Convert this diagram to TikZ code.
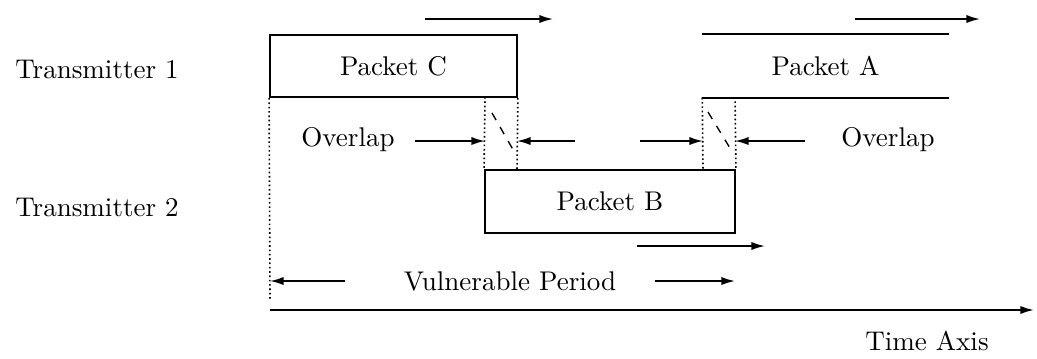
\documentclass[tikz,border=0pt]{standalone}
\usetikzlibrary{positioning,arrows.meta}
\begin{document}
\begin{tikzpicture}[
  x=0.013cm, y=-0.013cm,
  every node/.style={font=\normalsize},
  packet/.style={draw,line width=0.7pt,minimum height=0.81cm,inner sep=0pt},
  slot/.style={minimum height=0.81cm,inner sep=0pt},
  dir/.style={-{Latex[length=5pt,width=3pt]},line width=0.6pt},
  edge/.style={line width=0.7pt},
  hatch/.style={densely dotted,line width=0.6pt}
]
\useasboundingbox (0,0) rectangle (1037,358);

% senders
\node (tx1) at (97,69) {Transmitter 1};
\node (tx2) at (97,207) {Transmitter 2};

% packets
\node[packet,minimum width=3.21cm] (pc) at (393.5,66) {Packet C};
\node[slot,minimum width=3.19cm] (pa) at (825.5,66) {Packet A};
\draw[edge] (pa.north west) -- (pa.north east);
\draw[edge] (pa.south west) -- (pa.south east);
\node[packet,minimum width=3.25cm] (pb) at (610,201.5) {Packet B};

% direction of transmission
\coordinate (c0) at (425,19);
\coordinate (c1) at (553,19);
\coordinate (a0) at (855,19);
\coordinate (a1) at (980,19);
\coordinate (b0) at (637,246);
\coordinate (b1) at (765,246);
\draw[dir] (c0) -- (c1);
\draw[dir] (a0) -- (a1);
\draw[dir] (b0) -- (b1);

% overlap zones
\coordinate (o1a) at (485,97);
\coordinate (o1b) at (517,170);
\coordinate (o2a) at (735,97);
\coordinate (o2b) at (703,170);
\draw[hatch] (o1a) -- (pb.north west);
\draw[hatch] (pc.south east) -- (o1b);
\draw[hatch] (pa.south west) -- (o2b);
\draw[hatch] (o2a) -- (pb.north east);
\draw[dashed,line width=0.5pt] (492,113) -- (515,153);
\draw[dashed,line width=0.5pt] (708,112) -- (733,153);

\node (ol) at (348,140) {Overlap};
\node (or) at (888,140) {Overlap};
\coordinate (p1) at (415,141);
\coordinate (p2) at (485,141);
\coordinate (p3) at (575,141);
\coordinate (p4) at (517,141);
\coordinate (p5) at (640,141);
\coordinate (p6) at (703,141);
\coordinate (p7) at (805,141);
\coordinate (p8) at (735,141);
\draw[dir] (p1) -- (p2);
\draw[dir] (p3) -- (p4);
\draw[dir] (p5) -- (p6);
\draw[dir] (p7) -- (p8);

% vulnerable period
\coordinate (v0) at (270,300);
\draw[hatch] (pc.south west) -- (v0);
\node (vp) at (510,281) {Vulnerable Period};
\coordinate (vl) at (270,281);
\coordinate (vl0) at (345,281);
\coordinate (vr0) at (655,281);
\coordinate (vr) at (735,281);
\draw[dir] (vl0) -- (vl);
\draw[dir] (vr0) -- (vr);

% time axis
\coordinate (t0) at (270,310);
\coordinate (t1) at (1034,310);
\draw[dir,line width=0.7pt] (t0) -- (t1);
\node (ta) at (927,341) {Time Axis};

\end{tikzpicture}
\end{document}
